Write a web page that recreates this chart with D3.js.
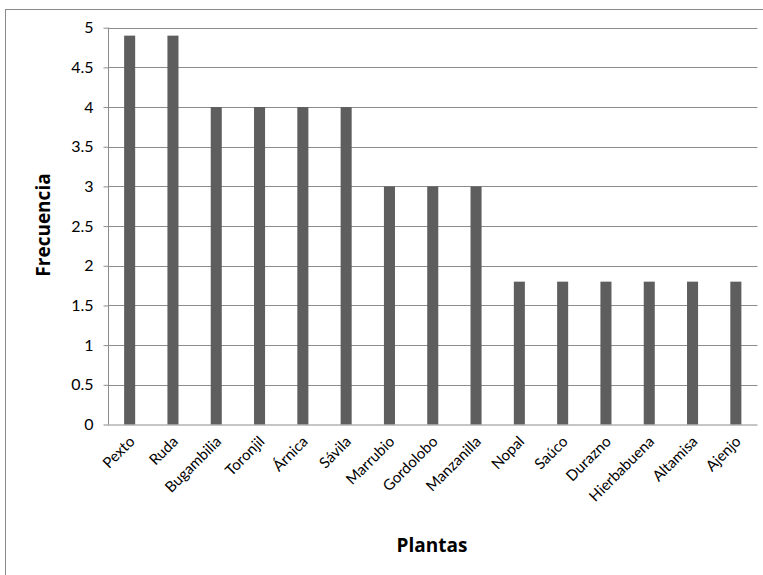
<!DOCTYPE html>
<html>
<head>
<meta charset="utf-8">
<script src="https://cdn.jsdelivr.net/npm/d3@7"></script>
<style>
  html, body { margin: 0; padding: 0; background: #fff; }
  svg { display: block; font-family: "Open Sans", "Noto Sans", sans-serif; }
</style>
</head>
<body>
<svg id="chart" width="763" height="575"></svg>
<script>
// Plant names and how often each one was mentioned
const plantas = ["Pexto", "Ruda", "Bugambilia", "Toronjil", "Árnica", "Sávila", "Marrubio",
  "Gordolobo", "Manzanilla", "Nopal", "Saúco", "Durazno", "Hierbabuena", "Altamisa", "Ajenjo"];
const frecuencia = [4.9, 4.9, 4, 4, 4, 4, 3, 3, 3, 1.8, 1.8, 1.8, 1.8, 1.8, 1.8];
const yTicks = [0, 0.5, 1, 1.5, 2, 2.5, 3, 3.5, 4, 4.5, 5];

const svg = d3.select("#chart");
const W = 763, H = 575;
const x0 = 108, x1 = 757.5, y0 = 424.5, y1 = 27.7;
const tickFont = "Lato, 'Open Sans', sans-serif";

// outer chart frame
svg.append("rect")
  .attr("x", 5.5).attr("y", 9.5)
  .attr("width", W + 10).attr("height", H + 10)
  .attr("fill", "#fff").attr("stroke", "#8a8a8a").attr("stroke-width", 1);

const x = d3.scaleBand().domain(plantas).range([x0, x1]).paddingInner(0.745).paddingOuter(0.3725);
const y = d3.scaleLinear().domain([0, 5]).range([y0, y1]);

// horizontal gridlines
svg.append("g").selectAll("line").data(yTicks.filter(d => d > 0)).join("line")
  .attr("x1", x0).attr("x2", x1)
  .attr("y1", d => Math.round(y(d)) + 0.5).attr("y2", d => Math.round(y(d)) + 0.5)
  .attr("stroke", "#8c8c8c").attr("stroke-width", 1);

// bars
svg.append("g").selectAll("rect").data(plantas).join("rect")
  .attr("x", d => x(d))
  .attr("y", (d, i) => y(frecuencia[i]))
  .attr("width", x.bandwidth())
  .attr("height", (d, i) => y0 - y(frecuencia[i]))
  .attr("fill", "#5e5e5e");

// y axis
const yAxis = svg.append("g")
  .attr("transform", `translate(${x0 + 0.5},0)`)
  .call(d3.axisLeft(y).tickValues(yTicks).tickSize(5).tickPadding(10)
    .tickFormat(d => String(d)));
yAxis.select(".domain").attr("stroke", "#8c8c8c").attr("d", `M0,${y1}V${y0}`);
yAxis.selectAll(".tick line").attr("stroke", "#8c8c8c");
yAxis.selectAll(".tick text").attr("fill", "#000").style("font-size", "16px")
  .style("font-family", tickFont);

// x axis baseline
const xAxis = svg.append("g")
  .attr("transform", `translate(0,${y0})`)
  .call(d3.axisBottom(x).tickSize(0).tickPadding(0));
xAxis.select(".domain").attr("stroke", "#8c8c8c").attr("d", `M${x0},0.5H${x1}`);
xAxis.selectAll(".tick text")
  .attr("fill", "#000")
  .style("font-size", "15px")
  .style("font-family", tickFont)
  .attr("text-anchor", "end")
  .attr("dy", "0")
  .attr("transform", "translate(6,18) rotate(-45)");

// axis titles
svg.append("text")
  .attr("transform", `translate(50,225) rotate(-90)`)
  .attr("text-anchor", "middle")
  .style("font-size", "19px").style("font-weight", "bold")
  .attr("fill", "#000")
  .text("Frecuencia");

svg.append("text")
  .attr("x", 432).attr("y", 552)
  .attr("text-anchor", "middle")
  .style("font-size", "19px").style("font-weight", "bold")
  .attr("fill", "#000")
  .text("Plantas");
</script>
</body>
</html>
